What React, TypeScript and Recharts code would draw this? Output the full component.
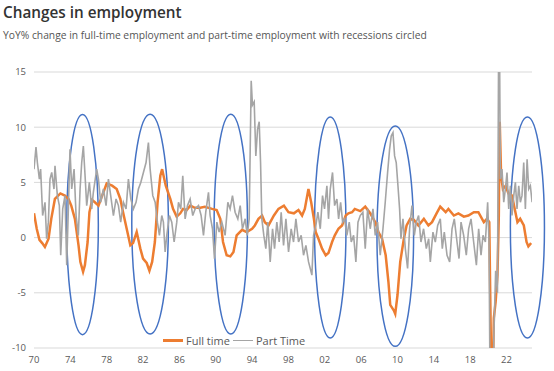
import React from 'react';
import { LineChart, Line, XAxis, YAxis, CartesianGrid, ReferenceArea } from 'recharts';

const fullTimeYears = [
  1970.0, 1970.3, 1970.6, 1970.9, 1971.2, 1971.6, 1971.9, 1972.3, 1972.9, 1973.4, 1973.8, 1974.1, 1974.5, 1974.9,
  1975.1, 1975.4, 1975.6, 1975.9, 1976.1, 1976.4, 1976.7, 1977.1, 1977.5, 1978.0, 1978.6, 1979.1, 1979.5, 1979.8,
  1980.2, 1980.6, 1980.9, 1981.3, 1981.7, 1982.0, 1982.4, 1982.7, 1983.0, 1983.3, 1983.6, 1983.9, 1984.1, 1984.5,
  1985.0, 1985.3, 1985.7, 1986.1, 1986.4, 1986.8, 1987.2, 1987.7, 1988.3, 1988.8, 1989.6, 1990.1, 1990.5, 1990.8,
  1991.2, 1991.6, 1991.95, 1992.3, 1992.9, 1993.4, 1994.0, 1994.3, 1994.7, 1995.1, 1995.4, 1995.8, 1996.4, 1996.9,
  1997.5, 1998.0, 1998.6, 1999.1, 1999.5, 1999.8, 2000.2, 2000.5, 2000.8, 2001.0, 2001.3, 2001.7, 2002.1, 2002.4,
  2002.8, 2003.1, 2003.5, 2003.9, 2004.3, 2004.6, 2005.0, 2005.3, 2005.9, 2006.45, 2007.0, 2007.55, 2007.9, 2008.3,
  2008.7, 2009.0, 2009.2, 2009.6, 2009.75, 2010.0, 2010.3, 2010.7, 2011.0, 2011.4, 2011.8, 2012.3, 2012.9, 2013.4,
  2013.8, 2014.3, 2014.7, 2015.3, 2015.6, 2016.2, 2016.7, 2017.3, 2017.8, 2018.4, 2018.9, 2019.5, 2019.85, 2020.1,
  2020.2, 2020.35, 2020.5, 2020.6, 2020.8, 2021.0, 2021.15, 2021.25, 2021.4, 2021.6, 2021.9, 2022.2, 2022.6, 2022.9,
  2023.2, 2023.5, 2023.9, 2024.2, 2024.4, 2024.7,
];
const fullTimeValues = [
  2.2, 0.8, -0.2, -0.5, -0.85, -0.1, 1.7, 3.5, 4.0, 3.8, 3.5, 2.9, 1.7, -0.7,
  -2.2, -3.1, -2.5, -0.4, 2.3, 3.4, 3.2, 2.9, 3.8, 4.9, 4.7, 4.4, 3.5, 2.3,
  0.8, -0.7, -0.5, 0.5, -1.0, -1.9, -2.3, -3.0, -2.2, -0.4, 3.2, 5.6, 6.2, 4.7,
  3.5, 2.6, 1.9, 2.2, 2.6, 2.5, 2.9, 2.7, 2.7, 2.8, 2.6, 2.5, 1.7, -0.4,
  -1.6, -1.7, -1.3, 0.2, 0.7, 0.5, 0.8, 1.1, 1.7, 2.0, 1.4, 1.1, 2.0, 2.6,
  2.9, 2.3, 2.2, 2.5, 2.0, 2.6, 4.4, 3.2, 1.7, 0.5, -0.1, -1.0, -1.6, -1.4,
  -0.4, 0.2, 0.8, 1.1, 2.0, 2.2, 2.3, 2.6, 2.4, 2.8, 2.2, 1.4, 0.5, -0.1,
  -1.6, -4.0, -6.1, -6.6, -6.9, -5.2, -2.2, -0.1, 1.1, 1.7, 1.6, 1.1, 1.7, 1.1,
  1.4, 2.2, 2.8, 2.3, 2.6, 2.0, 2.2, 1.9, 2.0, 2.3, 2.3, 1.4, 1.7, 1.4,
  -5.0, -14.0, -12.0, -7.3, -5.8, -3.4, 2.0, 10.5, 5.6, 4.4, 4.7, 4.0, 3.8, 2.6,
  1.4, 1.7, 1.1, -0.4, -0.8, -0.5,
];

const partTimeYears = [
  1970.0, 1970.22, 1970.37, 1970.59, 1970.73, 1970.95, 1971.21, 1971.39, 1971.58, 1971.76, 1971.95, 1972.2, 1972.31,
  1972.57, 1972.79, 1972.94, 1973.16, 1973.41, 1973.6, 1973.78, 1973.96, 1974.15, 1974.41, 1974.63, 1974.88, 1975.07,
  1975.25, 1975.43, 1975.62, 1975.8, 1976.09, 1976.35, 1976.53, 1976.9, 1977.09, 1977.34, 1977.64, 1977.93, 1978.19,
  1978.44, 1978.74, 1979.03, 1979.29, 1979.54, 1979.84, 1980.13, 1980.39, 1980.65, 1980.94, 1981.23, 1981.49, 1981.75,
  1982.04, 1982.33, 1982.59, 1982.78, 1983.07, 1983.33, 1983.58, 1983.8, 1984.06, 1984.24, 1984.43, 1984.61, 1984.9,
  1985.16, 1985.42, 1985.71, 1985.9, 1986.15, 1986.37, 1986.63, 1986.89, 1987.18, 1987.47, 1987.73, 1988.1, 1988.39,
  1988.65, 1988.9, 1989.2, 1989.38, 1989.64, 1989.86, 1990.12, 1990.37, 1990.67, 1991.03, 1991.33, 1991.58, 1991.84,
  1992.13, 1992.43, 1992.69, 1992.94, 1993.24, 1993.46, 1993.68, 1993.9, 1994.04, 1994.23, 1994.41, 1994.6, 1994.78,
  1994.93, 1995.07, 1995.29, 1995.51, 1995.73, 1995.99, 1996.25, 1996.47, 1996.72, 1996.98, 1997.2, 1997.46, 1997.72,
  1998.01, 1998.3, 1998.56, 1998.82, 1999.11, 1999.4, 1999.66, 1999.92, 2000.21, 2000.4, 2000.58, 2000.76, 2001.02,
  2001.24, 2001.5, 2001.75, 2001.97, 2002.23, 2002.41, 2002.6, 2002.85, 2003.08, 2003.33, 2003.52, 2003.74, 2003.96,
  2004.18, 2004.43, 2004.69, 2004.91, 2005.17, 2005.42, 2005.65, 2005.9, 2006.19, 2006.45, 2006.71, 2007.0, 2007.3,
  2007.55, 2007.81, 2008.1, 2008.4, 2008.65, 2008.91, 2009.13, 2009.31, 2009.5, 2009.68, 2009.86, 2010.05, 2010.23,
  2010.38, 2010.6, 2010.86, 2011.11, 2011.33, 2011.59, 2011.85, 2012.07, 2012.32, 2012.58, 2012.87, 2013.17, 2013.43,
  2013.61, 2013.9, 2014.16, 2014.42, 2014.71, 2014.93, 2015.15, 2015.45, 2015.74, 2016.0, 2016.25, 2016.55, 2016.77,
  2016.99, 2017.28, 2017.57, 2017.83, 2018.09, 2018.38, 2018.68, 2018.93, 2019.19, 2019.41, 2019.67, 2019.92, 2020.07,
  2020.22, 2020.4, 2020.6, 2020.8, 2021.0, 2021.17, 2021.32, 2021.5, 2021.69, 2021.87, 2022.05, 2022.24, 2022.42,
  2022.6, 2022.79, 2022.97, 2023.15, 2023.34, 2023.52, 2023.7, 2023.89, 2024.07, 2024.26, 2024.44, 2024.62, 2024.81,
];
const partTimeValues = [
  6.2, 8.2, 6.8, 5.3, 6.2, 2.0, 3.2, -0.1, 1.4, 5.3, 5.9, 4.4, 6.5,
  3.8, 2.9, -1.6, 2.6, 3.8, -2.5, 2.6, 8.0, 4.4, 6.2, 2.0, 0.2, 4.4,
  6.8, 8.3, 5.6, 2.9, 5.0, 2.6, 4.1, 6.2, 5.3, 3.2, 4.4, 2.9, 5.3,
  3.8, 2.0, 3.5, 2.9, 1.4, 3.2, 2.6, 5.3, 3.5, 2.6, 3.2, 4.4, 5.0,
  5.9, 6.8, 8.6, 6.2, 3.8, 3.2, 1.4, 0.2, 2.0, 1.4, -1.3, 0.2, 2.0,
  1.4, -0.4, 1.4, 3.2, 2.6, 5.6, 1.7, 2.9, 3.5, 2.0, 2.6, 2.9, 2.0,
  0.2, 2.3, 4.1, 2.0, 0.8, -1.9, 1.4, 0.5, 1.4, 0.2, 3.2, 2.6, 3.8,
  2.3, 1.7, 2.9, 0.8, 1.7, 0.2, 1.7, 14.2, 12.0, 12.3, 7.4, 9.8, 10.5,
  6.8, 1.7, 0.2, -1.0, 1.4, -2.2, 0.8, -1.0, 1.4, -0.4, 2.3, -0.7, 1.7,
  -1.3, 0.8, -0.4, 1.7, -0.4, 0.2, -1.6, -0.7, -2.2, -2.8, -3.4, 0.2, 1.1,
  2.3, 0.8, 3.8, 2.6, 4.7, 1.7, 4.4, 5.9, 2.9, 3.5, 1.7, 3.2, 1.4,
  1.7, 0.2, 1.4, -0.4, 0.2, -2.2, 1.4, 2.0, 2.3, -1.0, 2.6, 0.8, 2.6,
  0.2, 1.4, -1.6, 0.8, 3.2, 5.9, 8.0, 9.2, 9.5, 7.4, 6.8, 4.7, 2.6,
  -0.1, 1.7, -1.0, -2.8, 0.8, 2.9, 0.2, 1.4, 2.0, -0.4, 0.8, -1.0, -0.1,
  -2.2, 0.5, -0.4, 1.1, 1.7, -1.0, 0.5, -1.6, -2.2, 0.8, 1.7, -0.4, -1.9,
  1.4, 0.2, -1.6, 0.8, 1.7, -0.4, -2.5, 0.8, -1.6, 0.2, -0.4, 3.2, -0.4,
  -18.0, -20.0, -9.0, -3.0, -5.0, 25.0, 5.3, 6.2, 3.2, 4.4, 5.9, 2.6, 4.7,
  2.0, 3.8, 5.0, 2.6, 4.7, 3.2, 3.8, 6.8, 2.6, 7.1, 4.4, 4.7, 3.2,
];

const yearTicks = [1970, 1974, 1978, 1982, 1986, 1990, 1994, 1998, 2002, 2006, 2010, 2014, 2018, 2022];
const valueTicks = [-10, -5, 0, 5, 10, 15];

// recession circles: start / end year, top / bottom value
const recessionStart = [1973.6, 1980.76, 1989.82, 2000.87, 2007.74, 2022.42];
const recessionEnd = [1977.08, 1984.79, 1993.49, 2004.33, 2011.77, 2026.17];
const recessionTop = [11.15, 11.17, 11.17, 10.93, 10.12, 10.93];
const recessionBottom = [-8.79, -8.73, -8.73, -9.09, -9.85, -9.09];

const fullTimeData = fullTimeYears.map((year, i) => ({ year, value: fullTimeValues[i] }));
const partTimeData = partTimeYears.map((year, i) => ({ year, value: partTimeValues[i] }));

const orange = '#ED7D31';
const grey = '#A5A5A5';
const blue = '#4472C4';
const axisText = '#595959';

const Ellipse = (props: any) => {
  const { x, y, width, height } = props;
  return (
    <ellipse
      cx={x + width / 2}
      cy={y + height / 2}
      rx={Math.abs(width) / 2}
      ry={Math.abs(height) / 2}
      fill="none"
      stroke={blue}
      strokeWidth={1.5}
    />
  );
};

export default function App() {
  return (
    <div style={{ position: 'absolute', left: 0, top: 0, width: 554, height: 371, background: '#fff', fontFamily: '"Open Sans", sans-serif' }}>
      <div style={{ position: 'absolute', left: 3, top: 4, fontSize: 15.3, lineHeight: '16px', fontWeight: 600, color: '#333' }}>
        Changes in employment
      </div>
      <div style={{ position: 'absolute', left: 3, top: 30, fontSize: 10.3, lineHeight: '10px', color: '#555' }}>
        YoY% change in full-time employment and part-time employment with recessions circled
      </div>
      <LineChart width={554} height={371} margin={{ top: 72, right: 22, bottom: 0, left: 0 }}>
        <CartesianGrid vertical={false} stroke="#D9D9D9" />
        <XAxis
          type="number"
          dataKey="year"
          domain={[1970, 2024.8]}
          ticks={yearTicks}
          tickFormatter={(y: number) => String(y % 100).padStart(2, '0')}
          axisLine={false}
          tickLine={false}
          height={23}
          allowDataOverflow
          tick={{ fontSize: 9.5, fill: axisText }}
        />
        <YAxis
          type="number"
          domain={[-10, 15]}
          ticks={valueTicks}
          width={34}
          axisLine={false}
          tickLine={false}
          allowDataOverflow
          tick={{ fontSize: 9.5, fill: axisText }}
        />
        <Line data={fullTimeData} dataKey="value" stroke={orange} strokeWidth={2.5} dot={false} isAnimationActive={false} />
        <Line data={partTimeData} dataKey="value" stroke={grey} strokeWidth={1.6} dot={false} isAnimationActive={false} />
        {recessionStart.map((start, i) => (
          <ReferenceArea
            key={i}
            x1={start}
            x2={recessionEnd[i]}
            y1={recessionBottom[i]}
            y2={recessionTop[i]}
            ifOverflow="visible"
            shape={<Ellipse />}
          />
        ))}
      </LineChart>
      <div style={{ position: 'absolute', left: 163, top: 335, display: 'flex', alignItems: 'center', fontSize: 11, lineHeight: '11px', color: axisText }}>
        <span style={{ display: 'inline-block', width: 20, height: 2.5, background: orange, marginRight: 3 }} />
        <span>Full time</span>
        <span style={{ display: 'inline-block', width: 20, height: 1.5, background: grey, margin: '0 3px 0 3px' }} />
        <span>Part Time</span>
      </div>
    </div>
  );
}
